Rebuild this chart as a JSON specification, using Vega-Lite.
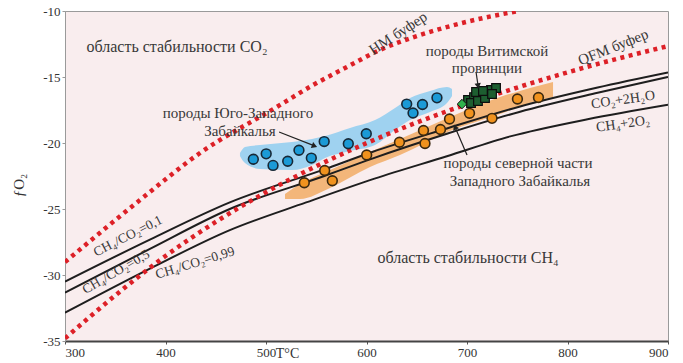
{
  "$schema": "https://vega.github.io/schema/vega-lite/v6.json",
  "width": 603,
  "height": 330,
  "autosize": {"type": "none"},
  "padding": {"left": 65, "top": 11, "right": 15, "bottom": 22},
  "background": "#ffffff",
  "config": {
    "view": {"fill": "#f9edee", "stroke": "#9a9a9a", "strokeWidth": 1},
    "font": "Liberation Serif",
    "text": {"font": "Liberation Serif", "color": "#383838", "fontSize": 14}
  },
  "datasets": {
    "curves": [
      {"s": "A", "x": 300, "y": -30.5}, {"s": "A", "x": 385, "y": -27.3}, {"s": "A", "x": 464, "y": -24.5}, {"s": "A", "x": 558, "y": -22.0}, {"s": "A", "x": 605, "y": -20.7}, {"s": "A", "x": 680, "y": -18.9}, {"s": "A", "x": 752, "y": -17.25}, {"s": "A", "x": 830, "y": -15.8}, {"s": "A", "x": 900, "y": -14.66},
      {"s": "B", "x": 300, "y": -31.34}, {"s": "B", "x": 385, "y": -28.0}, {"s": "B", "x": 464, "y": -25.0}, {"s": "B", "x": 558, "y": -22.5}, {"s": "B", "x": 605, "y": -21.2}, {"s": "B", "x": 680, "y": -19.3}, {"s": "B", "x": 752, "y": -17.65}, {"s": "B", "x": 830, "y": -16.2}, {"s": "B", "x": 900, "y": -15.0},
      {"s": "C", "x": 300, "y": -32.86}, {"s": "C", "x": 385, "y": -29.5}, {"s": "C", "x": 464, "y": -26.6}, {"s": "C", "x": 540, "y": -24.5}, {"s": "C", "x": 608, "y": -22.7}, {"s": "C", "x": 680, "y": -21.0}, {"s": "C", "x": 743, "y": -19.5}, {"s": "C", "x": 820, "y": -18.2}, {"s": "C", "x": 900, "y": -17.1}
    ],
    "buffers": [
      {"s": "QFM", "x": 300, "y": -34.8}, {"s": "QFM", "x": 350, "y": -31.55}, {"s": "QFM", "x": 400, "y": -28.56}, {"s": "QFM", "x": 450, "y": -25.98}, {"s": "QFM", "x": 500, "y": -23.73}, {"s": "QFM", "x": 550, "y": -21.76}, {"s": "QFM", "x": 600, "y": -20.01}, {"s": "QFM", "x": 650, "y": -18.45}, {"s": "QFM", "x": 700, "y": -17.06}, {"s": "QFM", "x": 750, "y": -15.8}, {"s": "QFM", "x": 800, "y": -14.65}, {"s": "QFM", "x": 850, "y": -13.61}, {"s": "QFM", "x": 900, "y": -12.66},
      {"s": "HM", "x": 300, "y": -29.02}, {"s": "HM", "x": 374.6, "y": -24.32}, {"s": "HM", "x": 434.3, "y": -20.76}, {"s": "HM", "x": 509, "y": -17.35}, {"s": "HM", "x": 546.8, "y": -15.61}, {"s": "HM", "x": 580.6, "y": -14.24}, {"s": "HM", "x": 613.4, "y": -12.95}, {"s": "HM", "x": 650, "y": -11.9}, {"s": "HM", "x": 683, "y": -11.15}, {"s": "HM", "x": 718, "y": -10.5}, {"s": "HM", "x": 752, "y": -10.0}
    ],
    "blueband": [
      {"x": 474.1, "hi": -20.76, "lo": -20.98}, {"x": 479.1, "hi": -20.3, "lo": -21.52}, {"x": 494.0, "hi": -20.15, "lo": -21.97}, {"x": 525.9, "hi": -19.92, "lo": -22.05}, {"x": 545.8, "hi": -19.7, "lo": -21.67}, {"x": 558.7, "hi": -19.47, "lo": -21.14}, {"x": 583.6, "hi": -18.86, "lo": -20.61}, {"x": 608.5, "hi": -18.26, "lo": -20.15}, {"x": 628.4, "hi": -17.35, "lo": -19.02}, {"x": 643.3, "hi": -16.59, "lo": -18.26}, {"x": 663.2, "hi": -16.06, "lo": -17.65}, {"x": 680.1, "hi": -15.76, "lo": -16.97}, {"x": 685.1, "hi": -15.91, "lo": -16.44}
    ],
    "orangeband": [
      {"x": 518.9, "hi": -23.86, "lo": -24.24}, {"x": 533.8, "hi": -23.11, "lo": -24.24}, {"x": 563.7, "hi": -22.05, "lo": -23.41}, {"x": 603.5, "hi": -20.68, "lo": -21.82}, {"x": 633.3, "hi": -19.7, "lo": -20.91}, {"x": 683.1, "hi": -18.03, "lo": -19.09}, {"x": 732.8, "hi": -16.52, "lo": -17.8}, {"x": 762.7, "hi": -15.83, "lo": -16.97}, {"x": 785.6, "hi": -15.38, "lo": -16.52}
    ],
    "blue": [
      {"x": 487.4, "y": -21.23}, {"x": 500.2, "y": -20.82}, {"x": 507.0, "y": -21.7}, {"x": 521.6, "y": -21.38}, {"x": 532.8, "y": -20.55}, {"x": 545.1, "y": -21.14}, {"x": 557.9, "y": -19.89}, {"x": 581.9, "y": -20.06}, {"x": 599.8, "y": -19.3}, {"x": 640.0, "y": -17.05}, {"x": 655.7, "y": -17.08}, {"x": 646.3, "y": -17.73}, {"x": 670.1, "y": -16.58}
    ],
    "orange": [
      {"x": 538.1, "y": -23.01}, {"x": 558.4, "y": -22.08}, {"x": 566.0, "y": -22.86}, {"x": 600.2, "y": -20.91}, {"x": 632.8, "y": -19.94}, {"x": 658.2, "y": -20.04}, {"x": 656.7, "y": -19.05}, {"x": 673.6, "y": -18.98}, {"x": 682.6, "y": -18.18}, {"x": 702.5, "y": -17.75}, {"x": 724.9, "y": -18.13}, {"x": 750.2, "y": -16.67}, {"x": 771.1, "y": -16.55}
    ],
    "green": [
      {"x": 701.0, "y": -16.74}, {"x": 707.0, "y": -16.52}, {"x": 712.9, "y": -16.36}, {"x": 718.9, "y": -16.14}, {"x": 723.9, "y": -15.98}, {"x": 728.9, "y": -15.83},
      {"x": 704.0, "y": -16.97}, {"x": 710.9, "y": -16.82}, {"x": 717.9, "y": -16.59}, {"x": 724.9, "y": -16.29}, {"x": 709.0, "y": -16.14}, {"x": 715.9, "y": -16.06}
    ]
  },
  "encoding": {
    "x": {
      "field": "x", "type": "quantitative",
      "scale": {"domain": [300, 900], "nice": false, "zero": false},
      "axis": {
        "values": [300, 400, 500, 600, 700, 800, 900],
        "title": "T°C", "titleFont": "Liberation Serif", "titleFontSize": 14, "titleFontWeight": "normal", "titleColor": "#333333",
        "titleX": 222, "titleY": 12, "titleBaseline": "middle", "titleAlign": "center",
        "labelFont": "Liberation Serif", "labelFontSize": 13, "labelColor": "#333333", "labelPadding": 2,
        "tickSize": 3, "tickColor": "#555555", "domainColor": "#444444", "domainWidth": 2, "grid": false
      }
    },
    "y": {
      "field": "y", "type": "quantitative",
      "scale": {"domain": [-35, -10], "nice": false, "zero": false},
      "axis": {
        "values": [-35, -30, -25, -20, -15, -10],
        "labelExpr": "toString(datum.value)",
        "title": "ƒO₂", "titleFont": "Liberation Serif", "titleFontSize": 15, "titleFontWeight": "normal", "titleColor": "#333333",
        "titleX": -47, "titleY": 174, "titleAngle": -90, "titleAlign": "center", "titleBaseline": "middle",
        "labelFont": "Liberation Serif", "labelFontSize": 13, "labelColor": "#333333", "labelPadding": 2,
        "tickSize": 3, "tickColor": "#999999", "domainColor": "#9a9a9a", "domainWidth": 1, "grid": false
      }
    }
  },
  "layer": [
    {
      "data": {"name": "curves"},
      "transform": [{"filter": "datum.s === 'B'"}],
      "mark": {"type": "area", "color": "#e5e9ef", "interpolate": "monotone", "clip": true},
      "encoding": {"y2": {"datum": -35}, "order": {"field": "x"}}
    },
    {
      "data": {"name": "blueband"},
      "mark": {"type": "area", "color": "#9fd2f0", "interpolate": "monotone"},
      "encoding": {"y": {"field": "hi", "type": "quantitative"}, "y2": {"field": "lo"}}
    },
    {
      "data": {"name": "orangeband"},
      "mark": {"type": "area", "color": "#f3b67a", "interpolate": "monotone"},
      "encoding": {"y": {"field": "hi", "type": "quantitative"}, "y2": {"field": "lo"}}
    },
    {
      "data": {"name": "curves"},
      "mark": {"type": "line", "color": "#1e1e1e", "strokeWidth": 2, "interpolate": "monotone", "clip": true},
      "encoding": {"detail": {"field": "s"}, "order": {"field": "x"}}
    },
    {
      "data": {"name": "buffers"},
      "mark": {"type": "line", "color": "#dd2027", "strokeWidth": 4.5, "strokeDash": [4, 4.5], "strokeCap": "butt", "interpolate": "monotone", "clip": true},
      "encoding": {"detail": {"field": "s"}, "order": {"field": "x"}}
    },
    {
      "data": {"name": "blue"},
      "mark": {"type": "point", "shape": "circle", "filled": true, "size": 95, "color": "#1b9ad6", "stroke": "#172836", "strokeWidth": 1.6, "opacity": 1}
    },
    {
      "data": {"name": "orange"},
      "mark": {"type": "point", "shape": "circle", "filled": true, "size": 95, "color": "#f0921e", "stroke": "#3a2810", "strokeWidth": 1.6, "opacity": 1}
    },
    {
      "data": {"name": "green"},
      "mark": {"type": "point", "shape": "square", "filled": true, "size": 75, "color": "#1d5e30", "stroke": "#0d0d0d", "strokeWidth": 1.2, "opacity": 1}
    },
    {
      "data": {"values": [{"x": 695.0, "y": -17.05}]},
      "mark": {"type": "point", "shape": "diamond", "filled": true, "size": 90, "color": "#2fb34c", "stroke": "#111111", "strokeWidth": 1, "opacity": 1}
    },
    {
      "data": {"values": [
        {"x": 513.0, "y": -19.17, "x2": 547.0, "y2": -20.18},
        {"x": 700.0, "y": -20.91, "x2": 689.0, "y2": -18.95},
        {"x": 709.0, "y": -14.62, "x2": 710.8, "y2": -15.55}
      ]},
      "mark": {"type": "rule", "color": "#222222", "strokeWidth": 1.2},
      "encoding": {"x2": {"field": "x2"}, "y2": {"field": "y2"}}
    },
    {
      "data": {"values": [{"x": 548.3, "y": -20.23}]},
      "mark": {"type": "point", "shape": "triangle-up", "filled": true, "size": 40, "angle": 111, "color": "#222222", "opacity": 1}
    },
    {
      "data": {"values": [{"x": 688.1, "y": -18.79}]},
      "mark": {"type": "point", "shape": "triangle-up", "filled": true, "size": 40, "angle": -23, "color": "#222222", "opacity": 1}
    },
    {
      "data": {"values": [{"x": 711.0, "y": -15.68}]},
      "mark": {"type": "point", "shape": "triangle-up", "filled": true, "size": 40, "angle": 172, "color": "#222222", "opacity": 1}
    },
    {
      "data": {"values": [
        {"x": 411.4, "y": -12.73, "t": "область стабильности CO₂"},
        {"x": 701.0, "y": -28.71, "t": "область стабильности CH₄"}
      ]},
      "mark": {"type": "text", "align": "center", "baseline": "middle", "fontSize": 16},
      "encoding": {"text": {"field": "t"}}
    },
    {
      "data": {"values": [
        {"x": 719.9, "y": -13.03, "t": "породы Витимской"},
        {"x": 719.9, "y": -14.32, "t": "провинции"},
        {"x": 472.1, "y": -17.73, "t": "породы Юго-Западного"},
        {"x": 474.1, "y": -19.09, "t": "Забайкалья"},
        {"x": 750.7, "y": -21.52, "t": "породы северной части"},
        {"x": 752.7, "y": -22.88, "t": "Западного Забайкалья"}
      ]},
      "mark": {"type": "text", "align": "center", "baseline": "middle", "fontSize": 15},
      "encoding": {"text": {"field": "t"}}
    },
    {
      "data": {"values": [{"x": 631.3, "y": -11.67, "t": "HM буфер"}]},
      "mark": {"type": "text", "align": "center", "baseline": "middle", "fontSize": 15, "angle": -33},
      "encoding": {"text": {"field": "t"}}
    },
    {
      "data": {"values": [{"x": 845.3, "y": -12.73, "t": "QFM буфер"}]},
      "mark": {"type": "text", "align": "center", "baseline": "middle", "fontSize": 15, "angle": -22},
      "encoding": {"text": {"field": "t"}}
    },
    {
      "data": {"values": [
        {"x": 855.2, "y": -16.74, "t": "CO₂+2H₂O"},
        {"x": 855.2, "y": -18.56, "t": "CH₄+2O₂"}
      ]},
      "mark": {"type": "text", "align": "center", "baseline": "middle", "fontSize": 14, "angle": -8},
      "encoding": {"text": {"field": "t"}}
    },
    {
      "data": {"values": [{"x": 362.7, "y": -27.05, "t": "CH₄/CO₂=0,1"}]},
      "mark": {"type": "text", "align": "center", "baseline": "middle", "fontSize": 13.5, "angle": -27},
      "encoding": {"text": {"field": "t"}}
    },
    {
      "data": {"values": [{"x": 350.7, "y": -29.77, "t": "CH₄/CO₂=0,5"}]},
      "mark": {"type": "text", "align": "center", "baseline": "middle", "fontSize": 13.5, "angle": -30},
      "encoding": {"text": {"field": "t"}}
    },
    {
      "data": {"values": [{"x": 429.4, "y": -29.09, "t": "CH₄/CO₂=0,99"}]},
      "mark": {"type": "text", "align": "center", "baseline": "middle", "fontSize": 13.5, "angle": -17},
      "encoding": {"text": {"field": "t"}}
    }
  ]
}
